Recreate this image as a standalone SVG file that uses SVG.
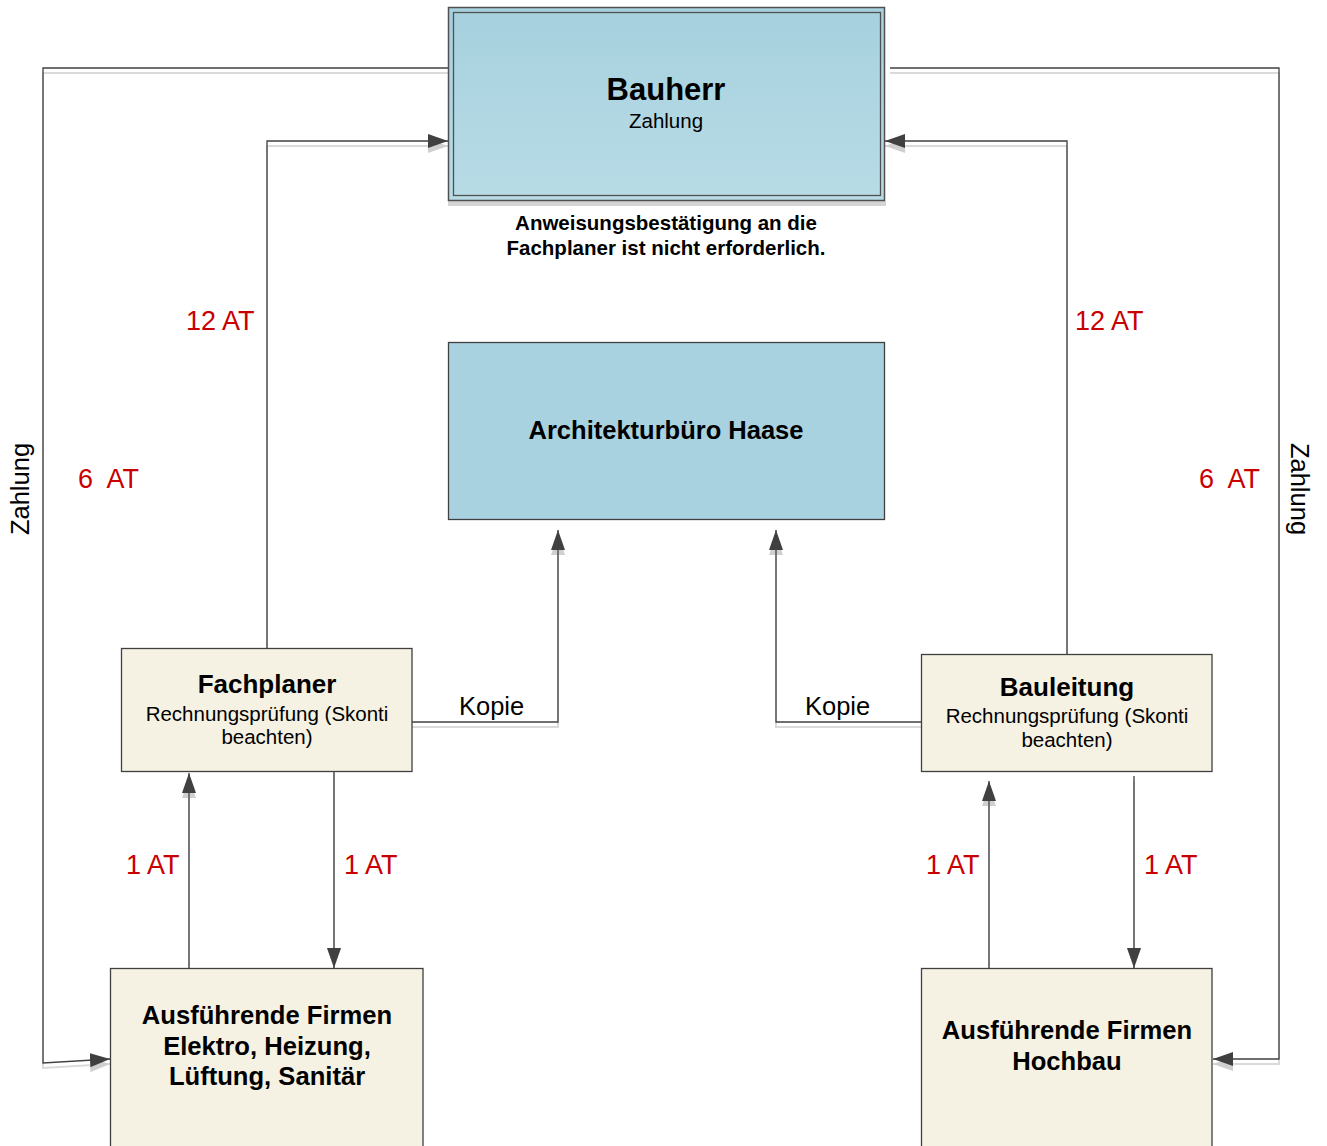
<svg xmlns="http://www.w3.org/2000/svg" width="1327" height="1146" viewBox="0 0 1327 1146">
<style>
text{font-family:"Liberation Sans",Arial,sans-serif;fill:#000}
.b{font-weight:bold}
.c{text-anchor:middle}
.red{fill:#c80000;font-size:27px}
.lbl{font-size:25.5px}
.sub{font-size:20.5px}
.con{fill:none;stroke:#404040;stroke-width:1.3}
.sh{fill:none;stroke:#dadada;stroke-width:2}
.box{fill:#f5f1e3;stroke:#404040;stroke-width:1.3}
</style>
<defs>
<linearGradient id="gB" x1="0" y1="0" x2="0" y2="1">
<stop offset="0" stop-color="#a6d0de"/>
<stop offset="1" stop-color="#b8dce6"/>
</linearGradient>
<marker id="ah" markerUnits="userSpaceOnUse" markerWidth="20" markerHeight="14" viewBox="0 0 20 14" refX="20" refY="7" orient="auto">
<path d="M0,0 L20,7 L0,14 z" fill="#404040"/>
</marker>
<marker id="ahs" markerUnits="userSpaceOnUse" markerWidth="20" markerHeight="14" viewBox="0 0 20 14" refX="20" refY="7" orient="auto">
<path d="M0,0 L20,7 L0,14 z" fill="#d0d0d0"/>
</marker>
</defs>
<rect width="1327" height="1146" fill="#fff"/>

<g id="connector-shadows" transform="translate(0,5)">
<path class="sh" marker-end="url(#ahs)" d="M448,68 H43 V1063 L110,1059"/>
<path class="sh" marker-end="url(#ahs)" d="M890,68 H1279 V1059 H1213"/>
<path class="sh" marker-end="url(#ahs)" d="M267,648 V141 H448"/>
<path class="sh" marker-end="url(#ahs)" d="M1067,654 V141 H885"/>
<path class="sh" marker-end="url(#ahs)" d="M412,722 H558 V530"/>
<path class="sh" marker-end="url(#ahs)" d="M921,722 H776 V530"/>
<path class="sh" marker-end="url(#ahs)" d="M189,963 V773"/>
<path class="sh" marker-end="url(#ahs)" d="M334,768 V963"/>
<path class="sh" marker-end="url(#ahs)" d="M989,963 V781"/>
<path class="sh" marker-end="url(#ahs)" d="M1134,776 V963"/>
</g>

<g id="connectors">
<path class="con" marker-end="url(#ah)" d="M448,68 H43 V1063 L110,1059"/>
<path class="con" marker-end="url(#ah)" d="M890,68 H1279 V1059 H1213"/>
<path class="con" marker-end="url(#ah)" d="M267,648 V141 H448"/>
<path class="con" marker-end="url(#ah)" d="M1067,654 V141 H885"/>
<path class="con" marker-end="url(#ah)" d="M412,722 H558 V530"/>
<path class="con" marker-end="url(#ah)" d="M921,722 H776 V530"/>
<path class="con" marker-end="url(#ah)" d="M189,968 V773"/>
<path class="con" marker-end="url(#ah)" d="M334,768 V968"/>
<path class="con" marker-end="url(#ah)" d="M989,968 V781"/>
<path class="con" marker-end="url(#ah)" d="M1134,776 V968"/>
<text class="red" x="186" y="330">12 AT</text>
<text class="red" x="1075" y="330">12 AT</text>
<text class="red" x="78" y="488" xml:space="preserve">6  AT</text>
<text class="red" x="1199" y="488" xml:space="preserve">6  AT</text>
<text class="red" x="126" y="874">1 AT</text>
<text class="red" x="344" y="874">1 AT</text>
<text class="red" x="926" y="874">1 AT</text>
<text class="red" x="1144" y="874">1 AT</text>
<text class="lbl" x="459" y="715">Kopie</text>
<text class="lbl" x="805" y="715">Kopie</text>
<text class="lbl c" transform="translate(29,489) rotate(-90)">Zahlung</text>
<text class="lbl c" transform="translate(1291,489) rotate(90)">Zahlung</text>
</g>

<g id="bauherr">
<rect x="448" y="201" width="438" height="5" fill="#d4d4d4"/>
<rect x="448.5" y="7.5" width="436" height="193" fill="url(#gB)" stroke="#505050" stroke-width="1.5"/>
<rect x="453.5" y="12.5" width="427" height="183" fill="none" stroke="#505050" stroke-width="1.3"/>
<text class="b c" x="666" y="100" font-size="31">Bauherr</text>
<text class="sub c" x="666" y="128">Zahlung</text>
<text class="b c" x="666" y="230" font-size="20.5">Anweisungsbestätigung an die</text>
<text class="b c" x="666" y="255" font-size="20.5">Fachplaner ist nicht erforderlich.</text>
</g>

<g id="architekturbuero">
<rect x="448.5" y="342.5" width="436" height="177" fill="#a8d2e0" stroke="#404040" stroke-width="1.3"/>
<text class="b c" x="666" y="439" font-size="25.5">Architekturbüro Haase</text>
</g>

<g id="fachplaner">
<rect class="box" x="121.5" y="648.5" width="290.5" height="123"/>
<text class="b c" x="267" y="693" font-size="26">Fachplaner</text>
<text class="sub c" x="267" y="721">Rechnungsprüfung (Skonti</text>
<text class="sub c" x="267" y="744">beachten)</text>
</g>

<g id="bauleitung">
<rect class="box" x="921.5" y="654.5" width="290.5" height="117"/>
<text class="b c" x="1067" y="696" font-size="26">Bauleitung</text>
<text class="sub c" x="1067" y="723">Rechnungsprüfung (Skonti</text>
<text class="sub c" x="1067" y="747">beachten)</text>
</g>

<g id="firmen-elektro">
<rect class="box" x="110.5" y="968.5" width="312.5" height="190"/>
<text class="b c" x="267" y="1024" font-size="25.6">Ausführende Firmen</text>
<text class="b c" x="267" y="1055" font-size="25.6">Elektro, Heizung,</text>
<text class="b c" x="267" y="1085" font-size="25.6">Lüftung, Sanitär</text>
</g>

<g id="firmen-hochbau">
<rect class="box" x="921.5" y="968.5" width="290.5" height="190"/>
<text class="b c" x="1067" y="1039" font-size="25.6">Ausführende Firmen</text>
<text class="b c" x="1067" y="1070" font-size="25.6">Hochbau</text>
</g>
</svg>
